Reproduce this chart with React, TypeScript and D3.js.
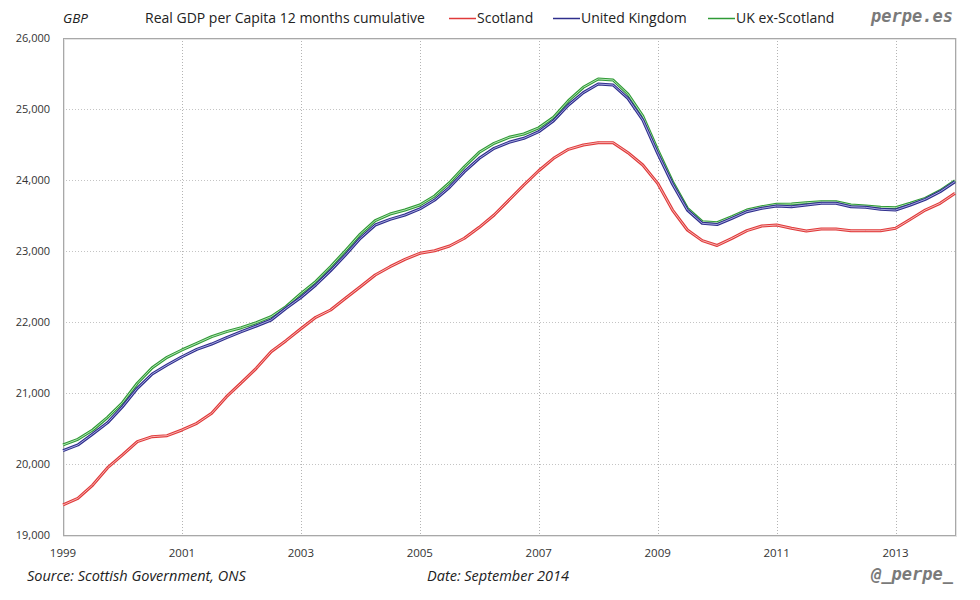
import { useRef, useEffect } from 'react';
import * as d3 from 'd3';

// quarterly values, 1999 Q1 .. 2014 Q1
const scotland = [
  19423, 19517, 19704, 19948, 20127, 20315, 20385, 20399, 20479, 20573, 20714, 20948, 21145, 21347, 21582, 21737, 21905,
  22066, 22169, 22334, 22497, 22662, 22779, 22883, 22968, 23004, 23070, 23179, 23334, 23507, 23718, 23930, 24130,
  24306, 24432, 24493, 24526, 24526, 24385, 24211, 23953, 23577, 23296, 23146, 23078,
  23179, 23286, 23352, 23366, 23320, 23282, 23310, 23310, 23286, 23286, 23286, 23320, 23446, 23577, 23672, 23813,
];
const unitedKingdom = [
  20187, 20268, 20423, 20582, 20807, 21066, 21268, 21394, 21511, 21615, 21690, 21779, 21864, 21944, 22028, 22193, 22345,
  22521, 22723, 22944, 23179, 23366, 23446, 23507, 23592, 23718, 23897, 24117, 24306, 24446, 24531, 24587, 24680,
  24835, 25056, 25230, 25352, 25338, 25151, 24845, 24376, 23944, 23577, 23390, 23373,
  23461, 23554, 23601, 23634, 23624, 23648, 23672, 23672, 23624, 23615, 23587, 23577, 23648, 23728, 23836, 23977,
];
const ukExScotland = [
  20268, 20348, 20479, 20658, 20863, 21137, 21356, 21503, 21606, 21700, 21793, 21864, 21920, 21990, 22075, 22215, 22400,
  22568, 22779, 23004, 23239, 23427, 23521, 23577, 23648, 23775, 23962, 24187, 24390, 24517, 24601, 24648, 24735,
  24883, 25117, 25306, 25423, 25408, 25211, 24901, 24423, 23976, 23601, 23413, 23399,
  23483, 23577, 23624, 23658, 23662, 23680, 23694, 23694, 23648, 23634, 23615, 23610, 23672, 23742, 23850, 23991,
];
const startYear = 1999;
const xTickYears = [1999, 2001, 2003, 2005, 2007, 2009, 2011, 2013];
const yTicks = [19000, 20000, 21000, 22000, 23000, 24000, 25000, 26000];

const SERIES = [
  { name: 'Scotland', values: scotland, color: '#e03a3a', light: '#f6b4b4' },
  { name: 'United Kingdom', values: unitedKingdom, color: '#2e2e8c', light: '#a8a8e0' },
  { name: 'UK ex-Scotland', values: ukExScotland, color: '#2f9a35', light: '#b2e2b4' },
];

const W = 980;
const H = 600;
const PLOT = { left: 63, right: 955, top: 38, bottom: 535 };
const FONT = '"Open Sans", "Noto Sans", sans-serif';
const MONO = '"DejaVu Sans Mono", monospace';

export default function App() {
  const svgRef = useRef<SVGSVGElement>(null);

  useEffect(() => {
    if (!svgRef.current) return;
    const svg = d3.select(svgRef.current);
    svg.selectAll('*').remove();

    const x = d3.scaleLinear().domain([1999, 2014]).range([PLOT.left, PLOT.right]);
    const y = d3.scaleLinear().domain([19000, 26000]).range([PLOT.bottom, PLOT.top]);

    svg.append('rect').attr('width', W).attr('height', H).attr('fill', 'white');

    // soft shadow of plot frame
    svg.append('rect')
      .attr('x', PLOT.left + 1)
      .attr('y', PLOT.top + 1)
      .attr('width', PLOT.right - PLOT.left)
      .attr('height', PLOT.bottom - PLOT.top)
      .attr('fill', 'none')
      .attr('stroke', '#e4e4e4')
      .attr('stroke-width', 2);

    // grid
    const grid = svg.append('g');
    grid.selectAll('.hg')
      .data(yTicks.slice(1, -1))
      .enter()
      .append('line')
      .attr('x1', PLOT.left)
      .attr('x2', PLOT.right)
      .attr('y1', (d) => Math.round(y(d)) + 0.5)
      .attr('y2', (d) => Math.round(y(d)) + 0.5)
      .attr('stroke', '#c4c4c4')
      .attr('stroke-dasharray', '1,2');
    grid.selectAll('.vg')
      .data(xTickYears.slice(1))
      .enter()
      .append('line')
      .attr('x1', (d) => Math.round(x(d)) + 0.5)
      .attr('x2', (d) => Math.round(x(d)) + 0.5)
      .attr('y1', PLOT.top)
      .attr('y2', PLOT.bottom)
      .attr('stroke', '#b4b4b4')
      .attr('stroke-dasharray', '1,2');

    svg.append('rect')
      .attr('x', PLOT.left + 0.5)
      .attr('y', PLOT.top + 0.5)
      .attr('width', PLOT.right - PLOT.left)
      .attr('height', PLOT.bottom - PLOT.top)
      .attr('fill', 'none')
      .attr('stroke', '#a8a8a8');

    // lines (double stroke look)
    const line = d3.line<number>()
      .x((_, i) => x(startYear + i / 4))
      .y((d) => y(d));

    [...SERIES].reverse().forEach((s) => {
      svg.append('path')
        .datum(s.values)
        .attr('fill', 'none')
        .attr('stroke', s.color)
        .attr('stroke-width', 3)
        .attr('stroke-linejoin', 'round')
        .attr('d', line);
      svg.append('path')
        .datum(s.values)
        .attr('fill', 'none')
        .attr('stroke', s.light)
        .attr('stroke-width', 1)
        .attr('stroke-linejoin', 'round')
        .attr('d', line);
    });

    // y tick labels
    svg.selectAll('.yl')
      .data(yTicks)
      .enter()
      .append('text')
      .attr('x', 50)
      .attr('y', (d) => y(d) + 4)
      .attr('text-anchor', 'end')
      .style('font-family', FONT)
      .style('font-size', '11px')
      .style('fill', '#333')
      .text((d) => d3.format(',')(d));

    // x tick labels
    svg.selectAll('.xl')
      .data(xTickYears)
      .enter()
      .append('text')
      .attr('x', (d) => x(d))
      .attr('y', 557)
      .attr('text-anchor', 'middle')
      .style('font-family', FONT)
      .style('font-size', '11.5px')
      .style('fill', '#333')
      .text((d) => String(d));

    // header
    svg.append('text')
      .attr('x', 63).attr('y', 23)
      .style('font-family', FONT).style('font-size', '13.5px').style('font-style', 'italic')
      .style('fill', '#222')
      .text('GBP');
    svg.append('text')
      .attr('x', 145).attr('y', 23)
      .style('font-family', FONT).style('font-size', '14px')
      .style('fill', '#222')
      .text('Real GDP per Capita 12 months cumulative');

    const legendPos = [449, 553, 708];
    SERIES.forEach((s, i) => {
      const lx = legendPos[i];
      svg.append('line')
        .attr('x1', lx).attr('x2', lx + 27)
        .attr('y1', 18.5).attr('y2', 18.5)
        .attr('stroke', s.color).attr('stroke-width', 1.5);
      svg.append('text')
        .attr('x', lx + 28).attr('y', 23)
        .style('font-family', FONT).style('font-size', '14px')
        .style('fill', '#222')
        .text(s.name);
    });

    svg.append('text')
      .attr('x', 953).attr('y', 22)
      .attr('text-anchor', 'end')
      .style('font-family', MONO).style('font-size', '17px')
      .style('font-weight', 'bold').style('font-style', 'italic')
      .style('fill', '#7a7a7a')
      .text('perpe.es');

    // footer
    svg.append('text')
      .attr('x', 27).attr('y', 581)
      .style('font-family', FONT).style('font-size', '14.5px').style('font-style', 'italic')
      .style('fill', '#222')
      .text('Source: Scottish Government, ONS');
    svg.append('text')
      .attr('x', 427).attr('y', 581)
      .style('font-family', FONT).style('font-size', '14.5px').style('font-style', 'italic')
      .style('fill', '#222')
      .text('Date: September 2014');
    svg.append('text')
      .attr('x', 953).attr('y', 580)
      .attr('text-anchor', 'end')
      .style('font-family', MONO).style('font-size', '17px')
      .style('font-weight', 'bold').style('font-style', 'italic')
      .style('fill', '#7a7a7a')
      .text('@_perpe_');
  }, []);

  return (
    <div style={{ position: 'absolute', left: 0, top: 0 }}>
      <svg ref={svgRef} width={W} height={H} />
    </div>
  );
}
